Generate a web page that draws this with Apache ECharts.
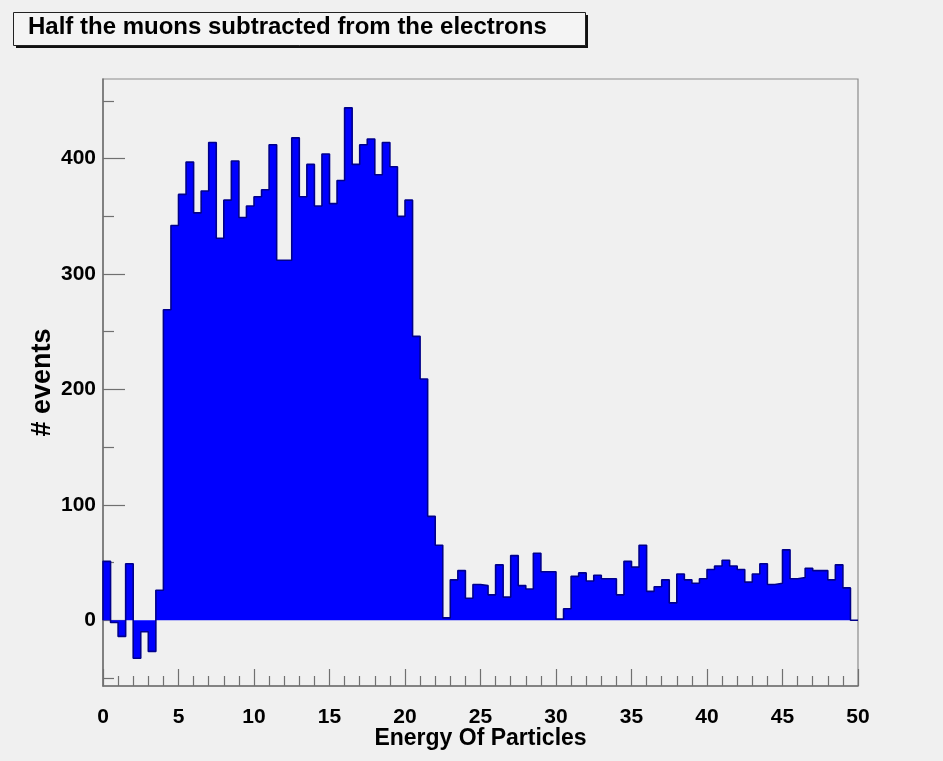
<!DOCTYPE html>
<html>
<head>
<meta charset="utf-8">
<script src="https://cdn.jsdelivr.net/npm/echarts@6/dist/echarts.min.js"></script>
<style>
html,body{margin:0;padding:0;background:#f0f0f0;}
#chart{width:943px;height:761px;}
</style>
</head>
<body>
<div id="chart"></div>
<script>
// Histogram: 100 bins from 0 to 50
const xMin = 0, xMax = 50, nBins = 100;
const counts = [
  51, -2, -14, 49, -33, -10, -27, 26,
  269, 342, 369, 397, 353, 372, 414, 331, 364, 398,
  349, 359, 367, 373, 412, 312, 312, 418, 367, 395,
  359, 404, 361, 381, 444, 395, 412, 417, 386, 414,
  393, 350, 364, 246, 209, 90, 65,
  2, 35, 43, 19, 31, 30, 22, 48, 20, 56,
  30, 27, 58, 42, 42, 1, 10, 38, 41, 34,
  39, 36, 36, 22, 51, 46, 65, 25, 29, 35,
  15, 40, 35, 32, 36, 44, 47, 52, 47, 44,
  33, 40, 49, 31, 32, 61, 36, 37, 45, 43,
  43, 35, 48, 28, 0
];
const yMin = -57, yMax = 469;
const yMajorTicks = [0, 100, 200, 300, 400];
const yMinorTicks = [-50, 50, 150, 250, 350, 450];
const xMajorTicks = [0, 5, 10, 15, 20, 25, 30, 35, 40, 45, 50];
const xMinorTicks = [1, 2, 3, 4, 6, 7, 8, 9, 11, 12, 13, 14, 16, 17, 18, 19, 21, 22, 23, 24,
  26, 27, 28, 29, 31, 32, 33, 34, 36, 37, 38, 39, 41, 42, 43, 44, 46, 47, 48, 49];
const titleText = 'Half the muons subtracted from the electrons';
const xTitle = 'Energy Of Particles';
const yTitle = '# events';

const FONT = "'Liberation Sans', Arial, Helvetica, sans-serif";
const binW = (xMax - xMin) / nBins;
const outline = [[xMin, 0]].concat(counts.map((v, i) => [xMin + i * binW, v]));
outline.push([xMax, counts[counts.length - 1]]);
outline.push([xMax, 0]);

const chart = echarts.init(document.getElementById('chart'), null, {renderer: 'canvas'});
const axisLineStyle = {color: '#707070', width: 1.5};
const tickStyle = {color: '#707070', width: 1.2};
const option = {
  backgroundColor: '#f0f0f0',
  animation: false,
  grid: {left: 103, right: 85, top: 79, bottom: 75, show: true, borderColor: '#8c8c8c', borderWidth: 1.2, backgroundColor: 'transparent'},
  xAxis: [
    {
      type: 'value', min: xMin, max: xMax,
      axisLine: {show: true, onZero: false, lineStyle: axisLineStyle},
      axisTick: {show: true, inside: true, length: 17, customValues: xMajorTicks, lineStyle: tickStyle},
      axisLabel: {show: true, margin: 21, customValues: xMajorTicks, color: '#000', fontFamily: FONT, fontWeight: 'bold', fontSize: 21},
      splitLine: {show: false},
      name: xTitle, nameLocation: 'middle', nameGap: 41, nameMoveOverlap: false,
      nameTextStyle: {color: '#000', fontFamily: FONT, fontWeight: 'bold', fontSize: 23}
    },
    {
      type: 'value', min: xMin, max: xMax, position: 'bottom',
      axisLine: {show: false, onZero: false},
      axisTick: {show: true, inside: true, length: 10, customValues: xMinorTicks, lineStyle: tickStyle},
      axisLabel: {show: false, customValues: xMinorTicks},
      splitLine: {show: false}
    }
  ],
  yAxis: [
    {
      type: 'value', min: yMin, max: yMax,
      axisLine: {show: true, onZero: false, lineStyle: axisLineStyle},
      axisTick: {show: true, inside: true, length: 22, customValues: yMajorTicks, lineStyle: tickStyle},
      axisLabel: {show: true, margin: 7, customValues: yMajorTicks, color: '#000', fontFamily: FONT, fontWeight: 'bold', fontSize: 21},
      splitLine: {show: false},
      name: yTitle, nameLocation: 'middle', nameGap: 47, nameRotate: 90, nameMoveOverlap: false,
      nameTextStyle: {color: '#000', fontFamily: FONT, fontWeight: 'bold', fontSize: 27}
    },
    {
      type: 'value', min: yMin, max: yMax, position: 'left',
      axisLine: {show: false, onZero: false},
      axisTick: {show: true, inside: true, length: 11, customValues: yMinorTicks, lineStyle: tickStyle},
      axisLabel: {show: false, customValues: yMinorTicks},
      splitLine: {show: false}
    }
  ],
  graphic: [
    {type: 'rect', left: 16, top: 15, shape: {width: 572, height: 33}, style: {fill: '#111'}, z: 10},
    {type: 'rect', left: 13, top: 12, shape: {width: 572, height: 33}, style: {fill: '#f4f4f4', stroke: '#222', lineWidth: 1}, z: 11},
    {type: 'text', left: 28, top: 15, style: {text: titleText, fill: '#000', font: "bold 24px " + FONT}, z: 12}
  ],
  series: [
    {
      type: 'line',
      xAxisIndex: 0, yAxisIndex: 0,
      step: 'end',
      symbol: 'none',
      data: outline,
      lineStyle: {color: '#00008b', width: 1.6},
      areaStyle: {color: '#0000ff', opacity: 1, origin: 0},
      z: 3
    }
  ]
};
chart.setOption(option);
</script>
</body>
</html>
